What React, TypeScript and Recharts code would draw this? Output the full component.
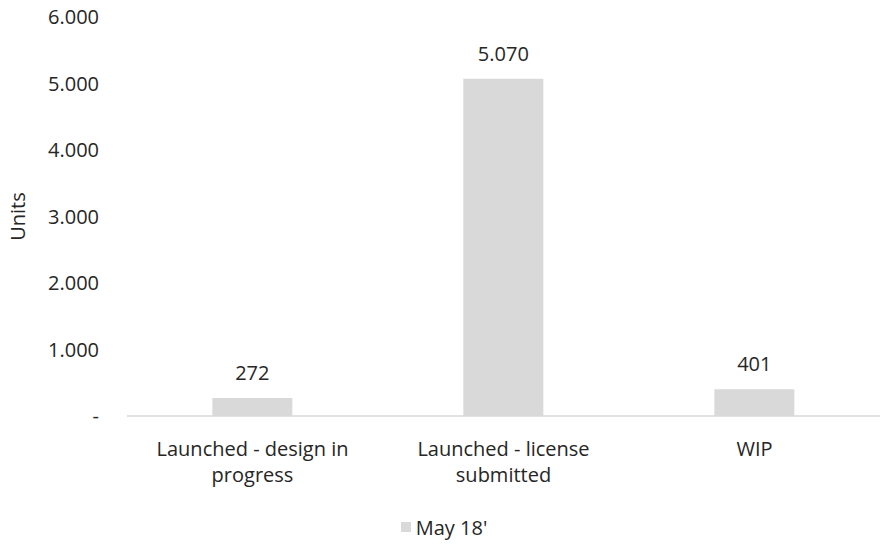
import React from 'react';
import { BarChart, Bar, XAxis, YAxis, LabelList, Legend } from 'recharts';

const categories = ['Launched - design in progress', 'Launched - license submitted', 'WIP'];
const may18 = [272, 5070, 401];
const yTicks = [0, 1000, 2000, 3000, 4000, 5000, 6000];
const seriesName = "May 18'";

const FONT = "'Open Sans', sans-serif";
const TEXT_COLOR = '#262626';
const BAR_COLOR = '#d9d9d9';

const fmt = (v: number) => (v === 0 ? '-' : String(v).replace(/\B(?=(\d{3})+(?!\d))/g, '.'));

// greedy word wrap, about 20 characters a line
const wrap = (s: string, max = 20) => {
  const lines: string[] = [];
  let cur = '';
  s.split(' ').forEach((w) => {
    const next = cur ? cur + ' ' + w : w;
    if (next.length > max && cur) {
      lines.push(cur);
      cur = w;
    } else cur = next;
  });
  if (cur) lines.push(cur);
  return lines;
};

const data = categories.map((name, i) => ({ name, may18: may18[i] }));

const CategoryTick = (props: any) => {
  const { x, y, payload } = props;
  const lines = wrap(String(payload.value));
  return (
    <text x={x} y={y} textAnchor="middle" fontFamily={FONT} fontSize={20} fill={TEXT_COLOR}>
      {lines.map((l, i) => (
        <tspan key={i} x={x} dy={i === 0 ? 14 : 26}>
          {l}
        </tspan>
      ))}
    </text>
  );
};

const LegendContent = () => (
  <div style={{ display: 'flex', justifyContent: 'center', alignItems: 'center', height: 24, fontFamily: FONT, fontSize: 20, color: TEXT_COLOR }}>
    <span style={{ width: 10, height: 10, background: BAR_COLOR, marginRight: 5, display: 'inline-block' }} />
    <span>{seriesName}</span>
  </div>
);

const App: React.FC = () => {
  return (
    <div style={{ position: 'absolute', left: 0, top: 0, background: '#fff' }}>
      <BarChart
        width={888}
        height={545}
        data={data}
        margin={{ top: 17, right: 8, left: 0, bottom: 35 }}
        barCategoryGap="34%"
      >
        <XAxis
          dataKey="name"
          axisLine={{ stroke: BAR_COLOR, strokeWidth: 1.5 }}
          tickLine={false}
          tickSize={0}
          tickMargin={26}
          height={70}
          interval={0}
          tick={<CategoryTick />}
        />
        <YAxis
          domain={[0, 6000]}
          ticks={yTicks}
          tickFormatter={fmt}
          axisLine={false}
          tickLine={false}
          tickSize={0}
          tickMargin={28}
          width={127}
          tick={{ fill: TEXT_COLOR, fontSize: 20, fontFamily: FONT }}
          label={{ value: 'Units', angle: -90, position: 'insideLeft', offset: 18, style: { textAnchor: 'middle', fill: TEXT_COLOR, fontSize: 20, fontFamily: FONT } }}
        />
        <Legend
          content={<LegendContent />}
          wrapperStyle={{ left: 0, width: 888, top: 515, bottom: 'auto', height: 24 }}
        />
        <Bar dataKey="may18" name={seriesName} fill={BAR_COLOR} isAnimationActive={false}>
          <LabelList
            dataKey="may18"
            position="top"
            offset={18}
            formatter={(v: any) => fmt(Number(v))}
            style={{ fill: TEXT_COLOR, fontSize: 20, fontFamily: FONT }}
          />
        </Bar>
      </BarChart>
    </div>
  );
};

export default App;
